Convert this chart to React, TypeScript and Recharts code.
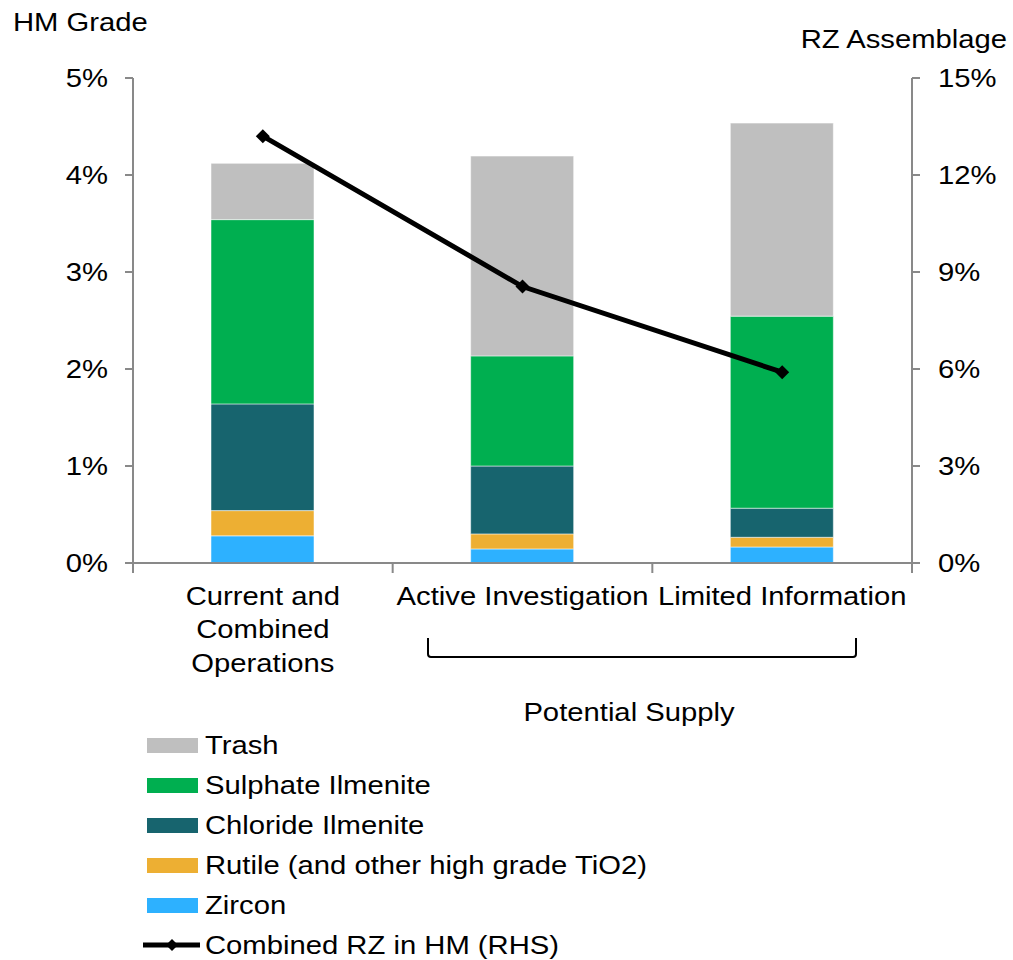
import React from 'react';
import { ComposedChart, Bar, Line, XAxis, YAxis } from 'recharts';

const categories = ['Current and Combined Operations', 'Active Investigation', 'Limited Information'];
const zircon = [0.28, 0.145, 0.165];
const rutile = [0.26, 0.155, 0.1];
const chlorideIlmenite = [1.1, 0.7, 0.3];
const sulphateIlmenite = [1.9, 1.135, 1.98];
const trash = [0.58, 2.06, 1.99];
const combinedRZ = [13.2, 8.55, 5.9];
const leftTicks = [0, 1, 2, 3, 4, 5];
const rightTicks = [0, 3, 6, 9, 12, 15];

// multi-line category labels, as wrapped in the original
const categoryLines: Record<string, string[]> = {
  'Current and Combined Operations': ['Current and', 'Combined', 'Operations'],
};

const FONT = 'Liberation Sans, Arial, sans-serif';
const FONT_SIZE = 25;
const SX = 1.17; // original text is drawn a little wide
const AXIS_GREY = '#898989';

const W = 1013;
const H = 960;
const LEFT_W = 133;
const RIGHT_W = 101;
const HALF_BAND = (W - LEFT_W - RIGHT_W) / categories.length / 2;

const series = [
  { key: 'trash', name: 'Trash', color: '#BFBFBF' },
  { key: 'sulphate', name: 'Sulphate Ilmenite', color: '#00AF50' },
  { key: 'chloride', name: 'Chloride Ilmenite', color: '#17646E' },
  { key: 'rutile', name: 'Rutile (and other high grade TiO2)', color: '#EDAF33' },
  { key: 'zircon', name: 'Zircon', color: '#2DB1FF' },
];

const data = categories.map((c, i) => ({
  category: c,
  zircon: zircon[i],
  rutile: rutile[i],
  chloride: chlorideIlmenite[i],
  sulphate: sulphateIlmenite[i],
  trash: trash[i],
  rz: combinedRZ[i],
}));

const WideText = ({ x, y, anchor = 'start', children, dy = 0 }: any) => (
  <text
    transform={`translate(${x},${y}) scale(${SX},1)`}
    textAnchor={anchor}
    dy={dy}
    fontFamily={FONT}
    fontSize={FONT_SIZE}
    fill="#000"
  >
    {children}
  </text>
);

// category label plus Excel-style tick marks between categories
const CategoryTick = ({ x, y, payload, index }: any) => {
  const lines = categoryLines[payload.value] || [payload.value];
  const axisY = y - 12;
  return (
    <g>
      {index === 0 && (
        <line x1={x - HALF_BAND} y1={axisY} x2={x - HALF_BAND} y2={axisY + 10} stroke={AXIS_GREY} strokeWidth={2} />
      )}
      <line x1={x + HALF_BAND} y1={axisY} x2={x + HALF_BAND} y2={axisY + 10} stroke={AXIS_GREY} strokeWidth={2} />
      <text
        transform={`translate(${x},${y + 12}) scale(${SX},1)`}
        textAnchor="middle"
        fontFamily={FONT}
        fontSize={FONT_SIZE}
        fill="#000"
      >
        {lines.map((l, i) => (
          <tspan key={i} x={0} dy={i === 0 ? 18 : 33.5}>
            {l}
          </tspan>
        ))}
      </text>
    </g>
  );
};

const LeftTick = ({ x, y, payload }: any) => (
  <WideText x={x} y={y} anchor="end" dy="0.35em">{`${payload.value}%`}</WideText>
);
const RightTick = ({ x, y, payload }: any) => (
  <WideText x={x} y={y} anchor="start" dy="0.35em">{`${payload.value}%`}</WideText>
);

const Diamond = ({ cx, cy }: any) => {
  if (cx == null || cy == null) return null;
  const r = 7;
  return <path d={`M${cx},${cy - r}L${cx + r},${cy}L${cx},${cy + r}L${cx - r},${cy}Z`} fill="#000" />;
};

export default function App() {
  return (
    <div style={{ position: 'absolute', left: 0, top: 0, width: W, height: H, background: '#fff' }}>
      <ComposedChart
        width={W}
        height={H}
        data={data}
        margin={{ top: 78, right: 0, bottom: 337, left: 0 }}
        barCategoryGap={0}
      >
        <XAxis
          dataKey="category"
          height={60}
          tick={<CategoryTick />}
          tickLine={false}
          axisLine={{ stroke: AXIS_GREY, strokeWidth: 2 }}
          tickSize={10}
          tickMargin={2}
          interval={0}
        />
        <YAxis
          yAxisId="left"
          width={LEFT_W}
          domain={[0, 5]}
          ticks={leftTicks}
          tick={<LeftTick />}
          tickLine={{ stroke: AXIS_GREY, strokeWidth: 2 }}
          axisLine={{ stroke: AXIS_GREY, strokeWidth: 2 }}
          tickSize={8}
          tickMargin={17}
        />
        <YAxis
          yAxisId="right"
          orientation="right"
          width={RIGHT_W}
          domain={[0, 15]}
          ticks={rightTicks}
          tick={<RightTick />}
          tickLine={{ stroke: AXIS_GREY, strokeWidth: 2 }}
          axisLine={{ stroke: AXIS_GREY, strokeWidth: 2 }}
          tickSize={8}
          tickMargin={18}
        />
        {[...series].reverse().map((s) => (
          <Bar
            key={s.key}
            yAxisId="left"
            dataKey={s.key}
            name={s.name}
            stackId="hm"
            fill={s.color}
            barSize={103}
            stroke="rgba(255,255,255,0.5)"
            strokeWidth={1}
            isAnimationActive={false}
          />
        ))}
        <Line
          yAxisId="right"
          dataKey="rz"
          name="Combined RZ in HM (RHS)"
          stroke="#000"
          strokeWidth={5}
          dot={<Diamond />}
          activeDot={false}
          isAnimationActive={false}
        />
      </ComposedChart>
      <svg
        width={W}
        height={H}
        style={{ position: 'absolute', left: 0, top: 0, pointerEvents: 'none' }}
      >
        <WideText x={13} y={31}>HM Grade</WideText>
        <WideText x={1007} y={48} anchor="end">RZ Assemblage</WideText>
        <path
          d="M428,638 L428,654 Q428,657 431,657 L853,657 Q856,657 856,654 L856,638"
          fill="none"
          stroke="#000"
          strokeWidth={2}
        />
        <WideText x={629} y={721} anchor="middle">Potential Supply</WideText>
        {/* legend */}
        {series.map((s, i) => (
          <g key={s.key}>
            <rect x={147} y={738 + i * 40} width={51} height={15} fill={s.color} />
            <WideText x={205} y={754 + i * 40}>{s.name}</WideText>
          </g>
        ))}
        <line x1={143} y1={945} x2={200} y2={945} stroke="#000" strokeWidth={5} />
        <path d="M172,939L178,945L172,951L166,945Z" fill="#000" />
        <WideText x={205} y={954}>Combined RZ in HM (RHS)</WideText>
      </svg>
    </div>
  );
}
